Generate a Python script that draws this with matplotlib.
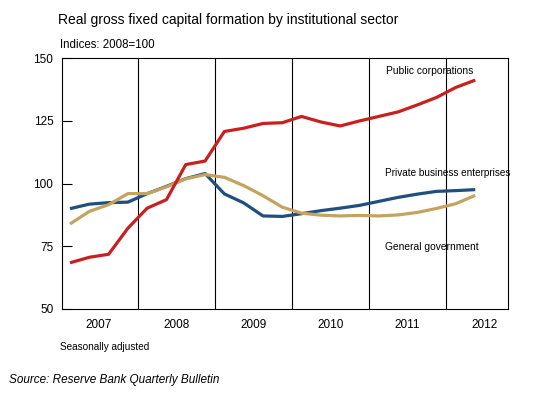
import matplotlib
matplotlib.use("Agg")
import matplotlib.pyplot as plt
import numpy as np

plt.rcParams['font.family'] = ['Liberation Sans', 'DejaVu Sans']

# quarterly data, 2007 Q1 .. 2012 Q2
years = ['2007', '2008', '2009', '2010', '2011', '2012']
public_corp = [68.4, 70.6, 71.8, 82.2, 90.2, 93.6, 107.6, 109.0,
               120.8, 122.1, 124.0, 124.3, 126.8, 124.6, 123.0, 125.0,
               126.8, 128.6, 131.4, 134.4, 138.4, 141.3]
private_bus = [90.0, 91.8, 92.4, 92.6, 96.0, 98.9, 102.0, 104.0,
               95.9, 92.3, 87.1, 86.9, 88.0, 89.2, 90.2, 91.3,
               92.9, 94.5, 95.8, 96.9, 97.2, 97.6]
general_gov = [83.9, 88.9, 91.6, 96.0, 96.0, 98.7, 101.9, 103.6,
               102.5, 99.2, 95.2, 90.6, 88.2, 87.4, 87.1, 87.3,
               87.1, 87.5, 88.5, 90.1, 92.0, 95.3]

x = np.arange(len(public_corp))

W, H = 539, 394
fig = plt.figure(figsize=(W / 100, H / 100), dpi=100)
ax = fig.add_axes([0.1145, 0.216, 0.828, 0.636])

red = '#c8201e'
blue = '#1f4f7d'
gold = '#c4a360'
lw = 2.3

ax.plot(x, private_bus, color=blue, lw=lw, solid_capstyle='butt', zorder=3)
ax.plot(x, general_gov, color=gold, lw=lw, solid_capstyle='butt', zorder=4)
ax.plot(x, public_corp, color=red, lw=lw, solid_capstyle='butt', zorder=5)

# year dividers
for i in range(1, len(years)):
    ax.axvline(4 * i - 0.5, color='black', lw=0.8, zorder=1)

ax.set_xlim(-0.43, 22.7)
ax.set_ylim(50, 150)
ax.set_yticks([50, 75, 100, 125, 150])
ax.tick_params(axis='y', direction='in', length=7.5, width=0.8, labelsize=8.5, pad=6)
ax.set_xticks([4 * i + 1.5 for i in range(len(years))])
ax.set_xticklabels(years)
ax.tick_params(axis='x', length=0, labelsize=8.5, pad=7)
for s in ax.spines.values():
    s.set_linewidth(0.8)


def px_text(px, py, s, **kw):
    # place text using pixel coords measured from the top-left corner
    fig.text(px / W, 1 - py / H, s, va='center', **kw)


px_text(386, 71, 'Public corporations', fontsize=7.4)
px_text(385, 173, 'Private business enterprises', fontsize=7.2)
px_text(385, 247, 'General government', fontsize=7.4)

px_text(58, 20, 'Real gross fixed capital formation by institutional sector', fontsize=10)
px_text(60, 45, 'Indices: 2008=100', fontsize=8.3)
px_text(60, 347, 'Seasonally adjusted', fontsize=7.2)
px_text(9, 380, 'Source: Reserve Bank Quarterly Bulletin', fontsize=8.5, style='italic')

fig.savefig('out.png', dpi=100)
